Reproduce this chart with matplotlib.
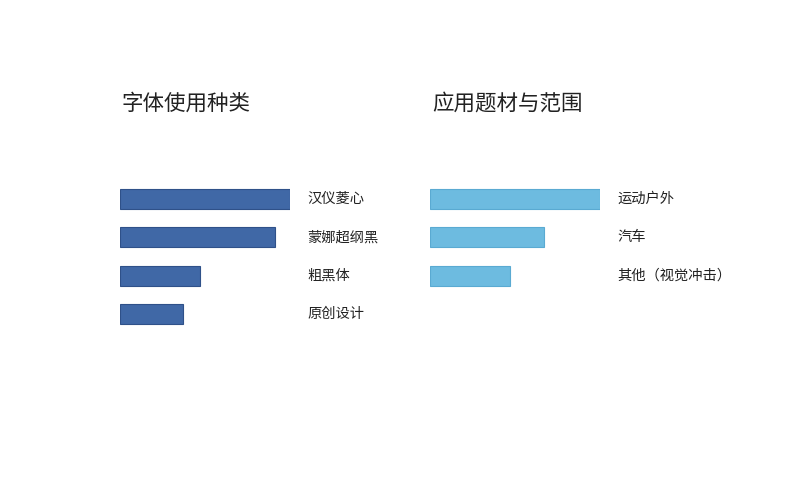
import matplotlib
matplotlib.use("Agg")
import matplotlib.pyplot as plt

plt.rcParams['font.family'] = ['Noto Sans CJK SC', 'DejaVu Sans']

# left panel: font types used
font_titles = "字体使用种类"
font_names = ["汉仪菱心", "蒙娜超纲黑", "粗黑体", "原创设计"]
font_values = [100, 91, 47, 37]

# right panel: application themes
theme_title = "应用题材与范围"
theme_names = ["运动户外", "汽车", "其他（视觉冲击）"]
theme_values = [100, 67, 47]

W, H = 800, 486
fig = plt.figure(figsize=(W / 100, H / 100), dpi=100)
fig.patch.set_facecolor("white")

row_px = 38.3
bar_px = 20
top_px = 180


def make_axes(left_px, names, values, color, edge, title):
    ax = fig.add_axes([left_px / W, 1 - (top_px + 4 * row_px) / H,
                       170 / W, 4 * row_px / H])
    ypos = list(range(len(names)))
    ax.barh(ypos, values, height=bar_px / row_px, color=color,
            edgecolor=edge, linewidth=0.8)
    ax.set_xlim(0, 100)
    ax.set_ylim(3.5, -0.5)
    ax.axis("off")
    for y, name in zip(ypos, names):
        ax.annotate(name, xy=(100, y), xytext=(17, 0),
                    textcoords="offset pixels", ha="left", va="center",
                    fontsize=10.3, color="#222222", annotation_clip=False)
    fig.text((left_px + 2) / W, 1 - 104 / H, title, fontsize=15.5,
             color="#222222", ha="left", va="center")
    return ax


make_axes(120, font_names, font_values, "#4068A6", "#2F5189", font_titles)
make_axes(430, theme_names, theme_values, "#6DBBE0", "#5AAAD2", theme_title)

fig.savefig("out.png", dpi=100, facecolor="white")
